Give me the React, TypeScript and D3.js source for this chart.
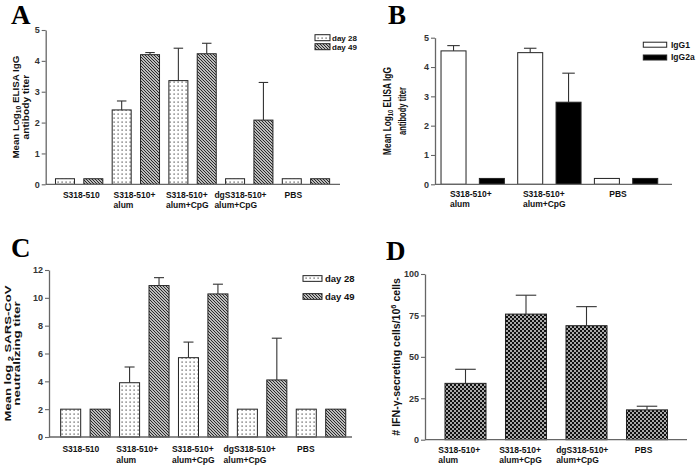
import React, { useEffect, useRef } from 'react';
import * as d3 from 'd3';

// ---- Panel A: IgG titer, day 28 / day 49 ----
const groupsA = [['S318-510'], ['S318-510+', 'alum'], ['S318-510+', 'alum+CpG'], ['dgS318-510+', 'alum+CpG'], ['PBS']];
const day28A = [0.18, 2.41, 3.36, 0.18, 0.18];
const day28ErrA = [0, 0.29, 1.05, 0, 0];
const day49A = [0.18, 4.2, 4.23, 2.08, 0.18];
const day49ErrA = [0, 0.07, 0.34, 1.22, 0];
const ticksA = [0, 1, 2, 3, 4, 5];

// ---- Panel B: IgG1 / IgG2a ----
const groupsB = [['S318-510+', 'alum'], ['S318-510+', 'alum+CpG'], ['PBS']];
const igg1B = [4.55, 4.49, 0.2];
const igg1ErrB = [0.18, 0.15, 0];
const igg2aB = [0.2, 2.8, 0.2];
const igg2aErrB = [0, 0.99, 0];
const ticksB = [0, 1, 2, 3, 4, 5];

// ---- Panel C: neutralizing titer ----
const groupsC = [['S318-510'], ['S318-510+', 'alum'], ['S318-510+', 'alum+CpG'], ['dgS318-510+', 'alum+CpG'], ['PBS']];
const day28C = [2, 3.9, 5.7, 2, 2];
const day28ErrC = [0, 1.13, 1.12, 0, 0];
const day49C = [2, 10.88, 10.28, 4.1, 2];
const day49ErrC = [0, 0.57, 0.7, 3.0, 0];
const ticksC = [0, 2, 4, 6, 8, 10, 12];

// ---- Panel D: IFN-gamma ELISPOT ----
const groupsD = [['S318-510+', 'alum'], ['S318-510+', 'alum+CpG'], ['dgS318-510+', 'alum+CpG'], ['PBS']];
const ifnD = [34, 75.8, 68.8, 18];
const ifnErrD = [8.5, 11.4, 11.5, 2.2];
const ticksD = [0, 25, 50, 75, 100];

const SANS = '"Liberation Sans", Arial, sans-serif';
const SERIF = '"Liberation Serif", "Times New Roman", serif';

type Seg = [string, string?];
type Series = { name: string; values: number[]; errs: number[]; fill: string };
type Panel = {
  letter: string; letterX: number; letterY: number;
  groups: string[][]; series: Series[]; ticks: number[]; max: number;
  yBase: number; yTop: number; axisX: number; xEnd: number;
  groupRange: [number, number]; pad: number; labelRange: [number, number];
  labelY: number; lineGap: number;
  title: Seg[][]; titleX: number[]; titleLen: number[]; titleSize: number;
  legend?: { boxX: number; boxW: number; boxH: number; y0: number; dy: number; textX: number; size: number };
};

const panels: Panel[] = [
  {
    letter: 'A', letterX: 11, letterY: 24,
    groups: groupsA,
    series: [
      { name: 'day 28', values: day28A, errs: day28ErrA, fill: 'url(#dots)' },
      { name: 'day 49', values: day49A, errs: day49ErrA, fill: 'url(#hatch)' },
    ],
    ticks: ticksA, max: 5, yBase: 184.3, yTop: 30, axisX: 45.7, xEnd: 340,
    groupRange: [50.8, 334.3], pad: 0.33, labelRange: [55, 320],
    labelY: 198, lineGap: 10,
    title: [[['Mean Log'], ['10', 'sub'], [' ELISA IgG']], [['antibody titer']]],
    titleX: [18.5, 28.5], titleLen: [103, 65], titleSize: 9.5,
    legend: { boxX: 315, boxW: 15, boxH: 6, y0: 37.7, dy: 9, textX: 332, size: 8 },
  },
  {
    letter: 'B', letterX: 388, letterY: 24,
    groups: groupsB,
    series: [
      { name: 'IgG1', values: igg1B, errs: igg1ErrB, fill: '#fff' },
      { name: 'IgG2a', values: igg2aB, errs: igg2aErrB, fill: '#000' },
    ],
    ticks: ticksB, max: 5, yBase: 184.3, yTop: 37.7, axisX: 435, xEnd: 672,
    groupRange: [434.35, 664.4], pad: 0.348, labelRange: [434, 655],
    labelY: 197, lineGap: 9.5,
    title: [[['Mean Log'], ['10', 'sub'], [' ELISA IgG']], [['antibody titer']]],
    titleX: [390.5, 405.5], titleLen: [88, 48], titleSize: 10,
    legend: { boxX: 643.3, boxW: 23.4, boxH: 5, y0: 44.7, dy: 12.8, textX: 671, size: 8.5 },
  },
  {
    letter: 'C', letterX: 11, letterY: 257,
    groups: groupsC,
    series: [
      { name: 'day 28', values: day28C, errs: day28ErrC, fill: 'url(#dots)' },
      { name: 'day 49', values: day49C, errs: day49ErrC, fill: 'url(#hatch)' },
    ],
    ticks: ticksC, max: 12, yBase: 437, yTop: 270, axisX: 49, xEnd: 352,
    groupRange: [55.95, 350.45], pad: 0.32, labelRange: [52.9, 334.1],
    labelY: 451.5, lineGap: 11,
    title: [[['Mean log '], ['2', 'sub'], [' SARS-CoV']], [['neutralizing titer']]],
    titleX: [10.5, 20], titleLen: [137, 105], titleSize: 9.5,
    legend: { boxX: 303, boxW: 19, boxH: 5.7, y0: 278.5, dy: 18, textX: 325, size: 9.5 },
  },
  {
    letter: 'D', letterX: 386, letterY: 260,
    groups: groupsD,
    series: [{ name: 'IFN', values: ifnD, errs: ifnErrD, fill: 'url(#checker)' }],
    ticks: ticksD, max: 100, yBase: 439.7, yTop: 274, axisX: 425, xEnd: 687,
    groupRange: [435.25, 677.25], pad: 0.322, labelRange: [428.5, 674.5],
    labelY: 453, lineGap: 10,
    title: [[['# IFN-\u03b3-secreting cells/10'], ['6', 'sup'], [' cells']]],
    titleX: [399.5], titleLen: [158], titleSize: 10.5,
  },
];

function addSegs(text: any, segs: Seg[]) {
  let shift = 0;
  segs.forEach(([t, kind]) => {
    const target = kind === 'sub' ? 2.5 : kind === 'sup' ? -4 : 0;
    text.append('tspan')
      .attr('dy', target - shift)
      .style('font-size', kind ? '0.7em' : null)
      .text(t);
    shift = target;
  });
}

function drawPanel(svg: any, p: Panel) {
  const g = svg.append('g');
  const y = d3.scaleLinear().domain([0, p.max]).range([p.yBase, p.yTop]);
  const ids = p.groups.map((_, i) => String(i));
  const x = d3.scaleBand().domain(ids).range(p.groupRange);
  const xs = d3.scaleBand()
    .domain(p.series.map((s) => s.name))
    .range([0, x.bandwidth()])
    .paddingInner(p.pad)
    .paddingOuter(p.pad / 2);
  const xl = d3.scaleBand().domain(ids).range(p.labelRange);

  // panel letter
  g.append('text')
    .attr('x', p.letterX).attr('y', p.letterY)
    .style('font-family', SERIF).style('font-weight', 'bold').style('font-size', '27px')
    .text(p.letter);

  // bars + error bars
  p.series.forEach((s) => {
    const bw = xs.bandwidth();
    const left = (i: number) => (x(String(i)) as number) + (xs(s.name) as number);
    g.append('g').selectAll('rect').data(s.values).enter().append('rect')
      .attr('x', (_: number, i: number) => left(i))
      .attr('y', (d: number) => y(d))
      .attr('width', bw)
      .attr('height', (d: number) => y(0) - y(d))
      .attr('fill', s.fill)
      .attr('stroke', '#222')
      .attr('stroke-width', 1);

    const eb = g.append('g').attr('stroke', '#333').attr('stroke-width', 1.1);
    s.values.forEach((v, i) => {
      const e = s.errs[i];
      if (!e) return;
      const cx = left(i) + bw / 2;
      eb.append('line').attr('x1', cx).attr('x2', cx).attr('y1', y(v)).attr('y2', y(v + e));
      eb.append('line').attr('x1', cx - bw * 0.25).attr('x2', cx + bw * 0.25).attr('y1', y(v + e)).attr('y2', y(v + e));
    });
  });

  // y axis
  const yAxis = g.append('g')
    .attr('transform', `translate(${p.axisX},0)`)
    .call(d3.axisLeft(y).tickValues(p.ticks).tickFormat(d3.format('d')).tickSize(4).tickSizeOuter(0).tickPadding(2));
  yAxis.select('.domain').attr('stroke', '#666').attr('stroke-width', 1.3);
  yAxis.selectAll('.tick line').attr('stroke', '#666').attr('stroke-width', 1.1);
  yAxis.selectAll('.tick text')
    .style('font-family', SANS).style('font-size', '9px').style('font-weight', 'bold').attr('fill', '#333');

  // x axis line
  g.append('line')
    .attr('x1', p.axisX).attr('x2', p.xEnd).attr('y1', y(0)).attr('y2', y(0))
    .attr('stroke', '#666').attr('stroke-width', 1.3);

  // category labels: left-aligned block, centered on the label position
  p.groups.forEach((lines, i) => {
    const lg = g.append('g');
    lines.forEach((t, j) => {
      lg.append('text')
        .attr('x', 0).attr('y', j * p.lineGap)
        .style('font-family', SANS).style('font-size', '8.5px').style('font-weight', 'bold')
        .attr('fill', '#111')
        .text(t);
    });
    const w = (lg.node() as SVGGElement).getBBox().width;
    const c = (xl(String(i)) as number) + xl.bandwidth() / 2;
    lg.attr('transform', `translate(${c - w / 2},${p.labelY})`);
  });

  // y title (rotated, stretched to the measured length)
  const cy = (p.yBase + p.yTop) / 2;
  p.title.forEach((segs, k) => {
    const t = g.append('text')
      .attr('text-anchor', 'middle')
      .style('font-family', SANS).style('font-size', `${p.titleSize}px`).style('font-weight', 'bold')
      .attr('fill', '#111');
    addSegs(t, segs);
    const w = (t.node() as SVGTextElement).getBBox().width;
    const k2 = p.titleLen[k] / w;
    t.attr('transform', `translate(${p.titleX[k]},${cy}) rotate(-90) scale(${k2},1)`);
  });

  // legend
  if (p.legend) {
    const L = p.legend;
    p.series.forEach((s, i) => {
      const yy = L.y0 + i * L.dy;
      g.append('rect')
        .attr('x', L.boxX).attr('y', yy - L.boxH / 2).attr('width', L.boxW).attr('height', L.boxH)
        .attr('fill', s.fill).attr('stroke', '#222').attr('stroke-width', 1);
      g.append('text')
        .attr('x', L.textX).attr('y', yy).attr('dy', '0.35em')
        .style('font-family', SANS).style('font-size', `${L.size}px`).style('font-weight', 'bold')
        .attr('fill', '#111')
        .text(s.name);
    });
  }
}

export default function App() {
  const svgRef = useRef<SVGSVGElement>(null);

  useEffect(() => {
    if (!svgRef.current) return;
    const svg = d3.select(svgRef.current);
    svg.selectAll('*').remove();

    const defs = svg.append('defs');

    // dotted fill
    const dots = defs.append('pattern').attr('id', 'dots')
      .attr('patternUnits', 'userSpaceOnUse').attr('width', 4).attr('height', 4);
    dots.append('rect').attr('width', 4).attr('height', 4).attr('fill', '#fff');
    dots.append('rect').attr('x', 1.5).attr('y', 1.5).attr('width', 1.2).attr('height', 1.2).attr('fill', '#444');

    // diagonal hatch
    const hatch = defs.append('pattern').attr('id', 'hatch')
      .attr('patternUnits', 'userSpaceOnUse').attr('width', 3).attr('height', 3);
    hatch.append('rect').attr('width', 3).attr('height', 3).attr('fill', '#fff');
    hatch.append('path').attr('d', 'M-1,-1 L4,4 M-1,2 L1,4 M2,-1 L4,1')
      .attr('stroke', '#222').attr('stroke-width', 1.15);

    // checkerboard
    const checker = defs.append('pattern').attr('id', 'checker')
      .attr('patternUnits', 'userSpaceOnUse').attr('width', 4).attr('height', 4);
    checker.append('rect').attr('width', 4).attr('height', 4).attr('fill', '#111');
    checker.append('rect').attr('x', 0.2).attr('y', 0.2).attr('width', 1.6).attr('height', 1.6).attr('fill', '#fff');
    checker.append('rect').attr('x', 2.2).attr('y', 2.2).attr('width', 1.6).attr('height', 1.6).attr('fill', '#fff');

    panels.forEach((p) => drawPanel(svg, p));
  }, []);

  return (
    <svg
      ref={svgRef}
      width={699}
      height={470}
      style={{ position: 'absolute', left: 0, top: 0, background: '#fff' }}
    />
  );
}
